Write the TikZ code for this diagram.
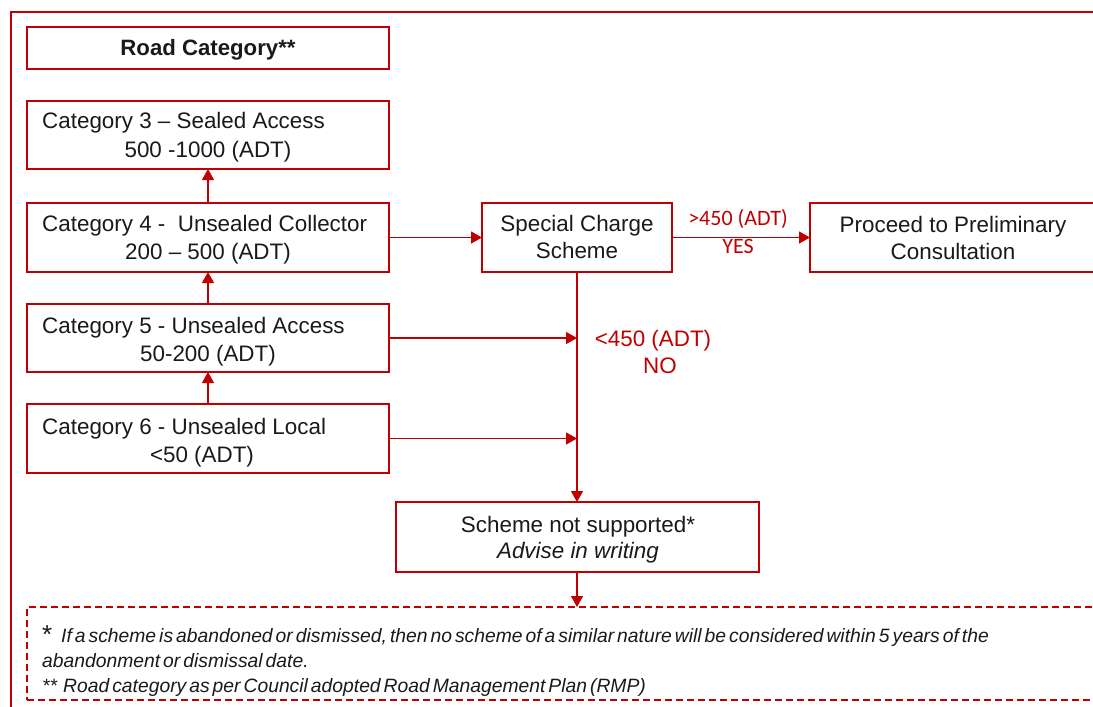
\documentclass[tikz,border=0pt]{standalone}
\usepackage{fontspec}
\setmainfont{Liberation Sans}
\newfontfamily\calib{Carlito}
\usetikzlibrary{arrows.meta}
\definecolor{dred}{HTML}{C00000}
\definecolor{ink}{HTML}{1A1A1A}
\newcommand\myfootfont{\fontsize{19.3}{22}\selectfont\itshape\spaceskip=3pt plus 1pt\relax}
\begin{document}
\begin{tikzpicture}[x=1pt,y=-1pt,
  box/.style={draw=dred,line width=2pt,fill=white,inner sep=0pt,outer sep=0pt,anchor=north west},
  conn/.style={draw=dred,line width=1.3pt,-{Triangle[length=11pt,width=12pt]}},
  txt/.style={inner sep=0pt,text=ink,font=\fontsize{22.4}{27}\selectfont},
  lbl/.style={inner sep=0pt,text=dred,font=\fontsize{22.4}{27}\selectfont},
  clbl/.style={inner sep=0pt,text=dred,font=\calib\fontsize{22}{25}\selectfont},
  foot/.style={inner sep=0pt,text=ink,anchor=base west,font=\myfootfont}]
\clip (0,0) rectangle (1093,707);
\fill[white] (0,0) rectangle (1093,707);
% outer frame
\coordinate (f1) at (11,720);
\coordinate (f2) at (11,12);
\coordinate (f3) at (1100,12);
\draw[dred,line width=2pt] (f1) -- (f2) -- (f3);
% boxes
\node[box,minimum width=362pt,minimum height=42pt] (rc) at (27,27) {};
\node[box,minimum width=362pt,minimum height=68pt] (c3) at (27,101) {};
\node[box,minimum width=362pt,minimum height=69pt] (c4) at (27,203) {};
\node[box,minimum width=362pt,minimum height=68pt] (c5) at (27,304) {};
\node[box,minimum width=362pt,minimum height=69pt] (c6) at (27,404) {};
\node[box,minimum width=190pt,minimum height=69pt] (scs) at (482,203) {};
\node[box,minimum width=286pt,minimum height=69pt] (pro) at (810,203) {};
\node[box,minimum width=363pt,minimum height=70pt] (ns) at (396,502) {};
\node[box,draw=dred,dash pattern=on 7pt off 4pt,minimum width=1080pt,minimum height=93pt] (fn) at (27,607) {};
% box texts
\node[txt,anchor=base,font=\fontsize{22.2}{27}\selectfont\bfseries] (rct) at (208,55) {Road Category**};
\node[txt,anchor=base west] (c3a) at (42,128) {Category 3 – Sealed Access};
\node[txt,anchor=base] (c3b) at (208,157) {500 -1000 (ADT)};
\node[txt,anchor=base west] (c4a) at (42,231) {Category 4 -\ \ Unsealed Collector};
\node[txt,anchor=base] (c4b) at (208,259) {200 – 500 (ADT)};
\node[txt,anchor=base west] (c5a) at (42,333) {Category 5 - Unsealed Access};
\node[txt,anchor=base] (c5b) at (208,361) {50-200 (ADT)};
\node[txt,anchor=base west] (c6a) at (42,434) {Category 6 - Unsealed Local};
\node[txt,anchor=base] (c6b) at (202,462) {<50 (ADT)};
\node[txt,anchor=base] (scsa) at (577,231) {Special Charge};
\node[txt,anchor=base] (scsb) at (577,258) {Scheme};
\node[txt,anchor=base] (proa) at (953,232) {Proceed to Preliminary};
\node[txt,anchor=base] (prob) at (953,259) {Consultation};
\node[txt,anchor=base] (nsa) at (578,532) {Scheme not supported*};
\node[txt,anchor=base,font=\fontsize{22.4}{27}\selectfont\itshape] (nsb) at (578,558) {Advise in writing};
% connectors
\draw[conn] (c4.north) -- (c3.south);
\draw[conn] (c5.north) -- (c4.north |- c4.south);
\draw[conn] (c6.north) -- (c5.north |- c5.south);
\draw[conn] (c4.east) -- (scs.west);
\draw[conn] (scs.east) -- (pro.west);
\draw[conn] (scs.south) -- (ns.north -| scs.south);
\draw[conn] (c5.east) -- (c5.east -| scs.south);
\draw[conn] (c6.east) -- (c6.east -| scs.south);
\draw[conn] (ns.south -| scs.south) -- (fn.north -| scs.south);
% labels
\node[clbl,anchor=base] (yes1) at (738,225) {>450 (ADT)};
\node[clbl,anchor=base] (yes2) at (738,253) {YES};
\node[lbl,anchor=base] (no1) at (653,346) {<450 (ADT)};
\node[lbl,anchor=base] (no2) at (660,373) {NO};
% footnotes
\node[inner sep=0pt,text=ink,anchor=base west,font=\fontsize{26}{28}\selectfont] (st) at (42,643) {*};
\node[foot] (fa) at (61,642) {If a scheme is abandoned or dismissed, then no scheme of a similar nature will be considered within 5 years of the};
\node[foot] (fb) at (42,667) {abandonment or dismissal date.};
\node[foot] (fc) at (42,692) {**\ \ Road category as per Council adopted Road Management Plan (RMP)};
\end{tikzpicture}
\end{document}
